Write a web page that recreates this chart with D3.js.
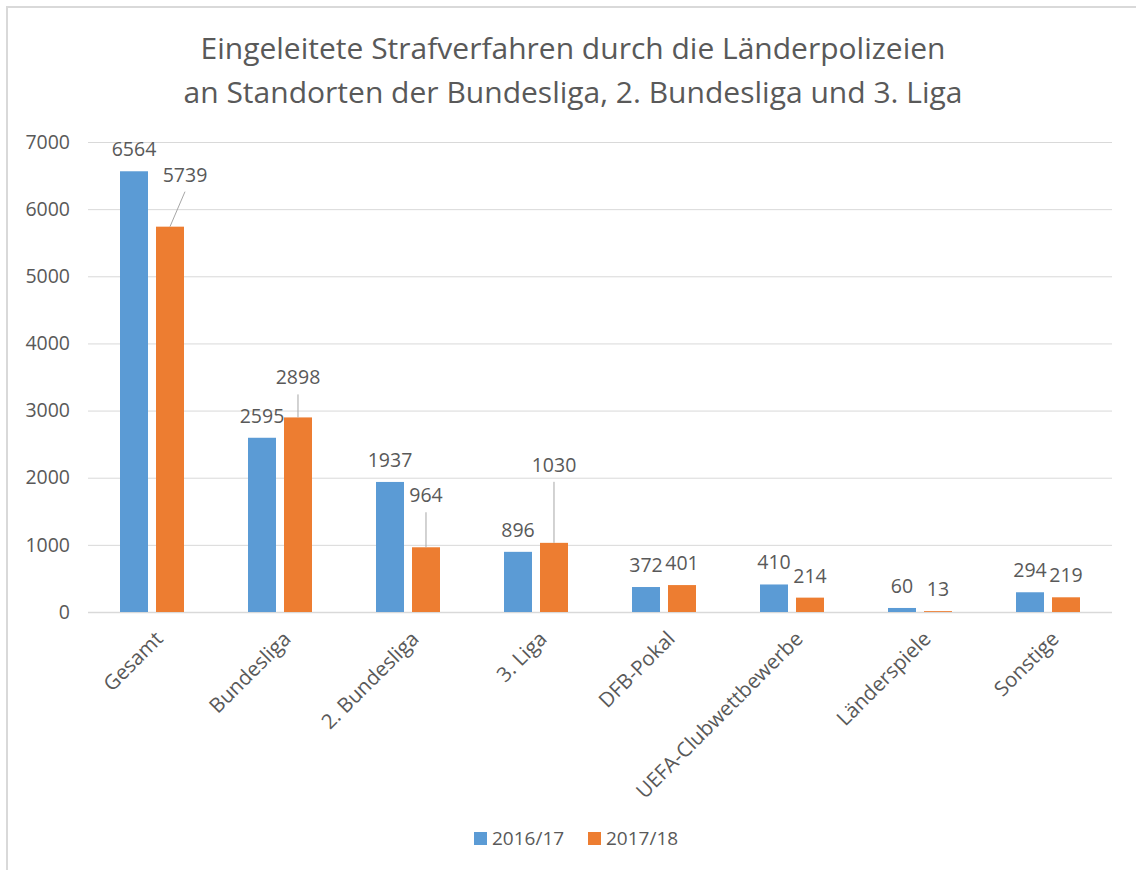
<!DOCTYPE html>
<html>
<head>
<meta charset="utf-8">
<script src="https://cdnjs.cloudflare.com/ajax/libs/d3/7.8.5/d3.min.js"></script>
<style>
  body { margin: 0; background: #fff; }
  svg text { font-family: "Open Sans", "Noto Sans", sans-serif; fill: #595959; }
</style>
</head>
<body>
<div id="chart"></div>
<script>
var categories = ["Gesamt", "Bundesliga", "2. Bundesliga", "3. Liga", "DFB-Pokal",
                  "UEFA-Clubwettbewerbe", "Länderspiele", "Sonstige"];
var series = ["2016/17", "2017/18"];
var values2016 = [6564, 2595, 1937, 896, 372, 410, 60, 294];
var values2017 = [5739, 2898, 964, 1030, 401, 214, 13, 219];
var yTicks = [0, 1000, 2000, 3000, 4000, 5000, 6000, 7000];
var titleLines = ["Eingeleitete Strafverfahren durch die Länderpolizeien",
                  "an Standorten der Bundesliga, 2. Bundesliga und 3. Liga"];

var width = 1136, height = 870,
    colors = {"2016/17": "#5b9bd5", "2017/18": "#ed7d31"},
    gridColor = "#d9d9d9";

// labels that were dragged away from their bars (lift = px of label centre above bar top)
var labelMoves = {
  "Gesamt|2017/18":     {dx: 15, lift: 52, leader: true},
  "Bundesliga|2017/18": {dx: 0,  lift: 40, leader: true},
  "2. Bundesliga|2017/18": {dx: 0, lift: 52, leader: true},
  "3. Liga|2017/18":    {dx: 0,  lift: 78, leader: true}
};

var rows = [];
categories.forEach(function(c, i) {
  rows.push({cat: c, s: series[0], v: values2016[i]});
  rows.push({cat: c, s: series[1], v: values2017[i]});
});

var svg = d3.select("#chart").append("svg")
    .attr("width", width)
    .attr("height", height);

// chart frame (only top/left edges fall inside the picture)
svg.append("rect")
    .attr("x", 7)
    .attr("y", 7)
    .attr("width", width + 20)
    .attr("height", height + 20)
    .attr("fill", "none")
    .attr("stroke", gridColor)
    .attr("stroke-width", 2);

svg.selectAll("text.title")
    .data(titleLines)
  .enter().append("text")
    .attr("class", "title")
    .attr("x", 573)
    .attr("y", function(d, i) { return 59 + i * 44; })
    .attr("text-anchor", "middle")
    .attr("font-size", 29)
    .attr("textLength", function(d, i) { return i === 0 ? 745 : 779; })
    .attr("lengthAdjust", "spacingAndGlyphs")
    .text(function(d) { return d; });

var x = d3.scaleBand()
    .domain(categories)
    .range([88, 1112]);

var xs = d3.scaleBand()
    .domain(series)
    .range([0, x.bandwidth()])
    .paddingInner(8 / 36)
    .paddingOuter(0.889);

var y = d3.scaleLinear()
    .domain([0, 7000])
    .range([612, 142]);

// gridlines + tick labels
var yAxis = d3.axisLeft(y)
    .tickValues(yTicks)
    .tickSize(-(1112 - 88))
    .tickPadding(18)
    .tickFormat(d3.format("d"));

var gy = svg.append("g")
    .attr("transform", "translate(88,0)")
    .call(yAxis);
gy.select(".domain").remove();
gy.selectAll(".tick line")
    .attr("stroke", gridColor)
    .attr("stroke-width", function(d) { return d === 0 ? 1.5 : 1; });
gy.selectAll(".tick text")
    .attr("font-size", 19.5)
    .attr("font-family", "Open Sans")
    .attr("fill", "#595959");

svg.selectAll("rect.bar")
    .data(rows)
  .enter().append("rect")
    .attr("class", "bar")
    .attr("x", function(d) { return x(d.cat) + xs(d.s); })
    .attr("y", function(d) { return y(d.v); })
    .attr("width", xs.bandwidth())
    .attr("height", function(d) { return y(0) - y(d.v); })
    .attr("fill", function(d) { return colors[d.s]; });

function barMid(d) { return x(d.cat) + xs(d.s) + xs.bandwidth() / 2; }
function move(d) { return labelMoves[d.cat + "|" + d.s] || {dx: 0, lift: 22}; }

svg.selectAll("line.leader")
    .data(rows.filter(function(d) { return move(d).leader; }))
  .enter().append("line")
    .attr("class", "leader")
    .attr("x1", function(d) { return barMid(d) + move(d).dx; })
    .attr("y1", function(d) { return y(d.v) - move(d).lift + 17; })
    .attr("x2", barMid)
    .attr("y2", function(d) { return y(d.v); })
    .attr("stroke", "#a6a6a6")
    .attr("stroke-width", 1);

svg.selectAll("text.value")
    .data(rows)
  .enter().append("text")
    .attr("class", "value")
    .attr("x", function(d) { return barMid(d) + move(d).dx; })
    .attr("y", function(d) { return y(d.v) - move(d).lift + 7; })
    .attr("text-anchor", "middle")
    .attr("font-size", 19.5)
    .text(function(d) { return d.v; });

svg.selectAll("text.cat")
    .data(categories)
  .enter().append("text")
    .attr("class", "cat")
    .attr("transform", function(d) {
      return "translate(" + (x(d) + x.bandwidth() / 2 + 2) + ",630) rotate(-45)";
    })
    .attr("text-anchor", "end")
    .attr("dy", "0.7em")
    .attr("font-size", 20.5)
    .text(function(d) { return d; });

var legend = svg.selectAll("g.legend")
    .data(series)
  .enter().append("g")
    .attr("class", "legend")
    .attr("transform", function(d, i) { return "translate(" + (474 + i * 114) + ",832)"; });
legend.append("rect")
    .attr("width", 13)
    .attr("height", 13)
    .attr("fill", function(d) { return colors[d]; });
legend.append("text")
    .attr("x", 18)
    .attr("y", 13)
    .attr("font-size", 19)
    .text(function(d) { return d; });
</script>
</body>
</html>
